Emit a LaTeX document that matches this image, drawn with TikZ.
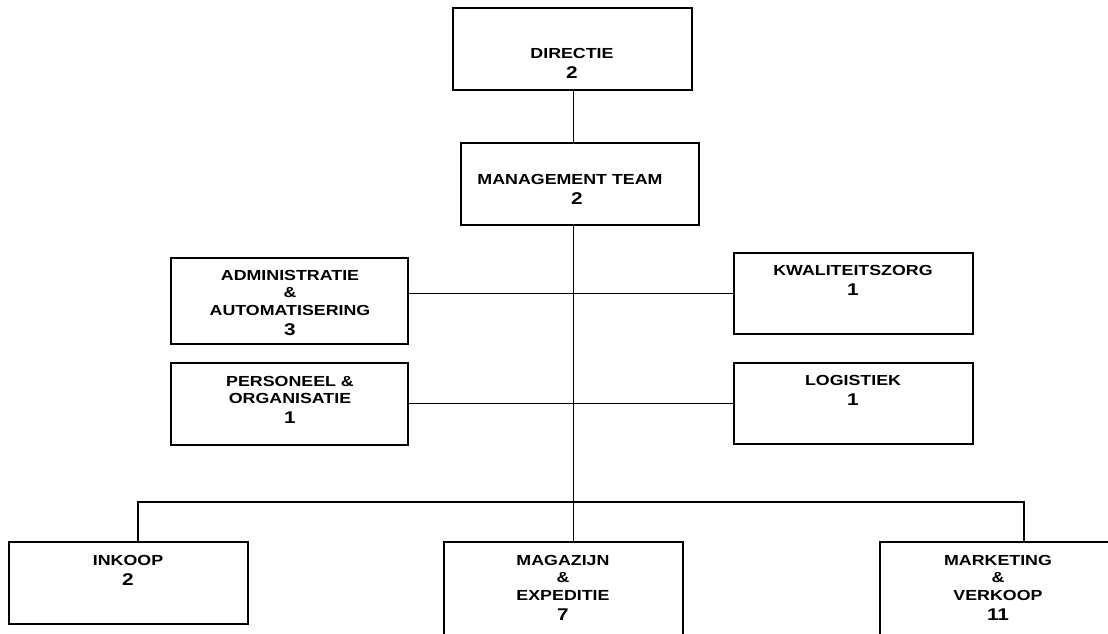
\documentclass[tikz,border=0pt]{standalone}
\usepackage{fontspec}
\setmainfont{Liberation Sans}[FakeStretch=1.22]
\begin{document}
\begin{tikzpicture}[x=1pt,y=-1pt,
  orgbox/.style={draw=black,line width=1.4pt,rectangle,inner sep=0pt,
    minimum width=239pt,minimum height=82pt},
  orgtext/.style={inner sep=0pt,align=center,
    font=\bfseries\fontsize{14.6}{17.5}\selectfont},
  link/.style={draw=black,line width=1.3pt}]
\useasboundingbox (0,0) rectangle (1108,634);
\clip (0,0) rectangle (1108,634);
\newcommand{\num}[1]{{\fontsize{17}{17.5}\selectfont #1}}
% boxes
\node[orgbox] (dir)  at (572.5,49) {};
\node[orgbox, minimum width=238pt] (mt) at (580,184) {};
\node[orgbox, minimum width=237pt, minimum height=86pt] (adm) at (289.5,301) {};
\node[orgbox, minimum width=237pt] (pers) at (289.5,404) {};
\node[orgbox, minimum height=81pt] (kwal) at (853.5,293.5) {};
\node[orgbox, minimum height=81pt] (log)  at (853.5,403.5) {};
\node[orgbox] (ink)  at (128.5,583) {};
\node[orgbox, minimum height=100pt] (mag)  at (563.5,592) {};
\node[orgbox, minimum height=100pt] (mark) at (999.5,592) {};
% texts
\node[orgtext] (dirT)  at (572,63)   {DIRECTIE\\[2.5pt]\num{2}};
\node[orgtext] (mtT)   at (570,189)  {MANAGEMENT TEAM\\[2.5pt]\hspace*{14pt}\num{2}};
\node[orgtext] (admT)  at (290,302.5)  {ADMINISTRATIE\\\&\\AUTOMATISERING\\[2.5pt]\num{3}};
\node[orgtext] (persT) at (290,400)  {PERSONEEL \&\\ORGANISATIE\\[2.5pt]\num{1}};
\node[orgtext] (kwalT) at (853,280)  {KWALITEITSZORG\\[2.5pt]\num{1}};
\node[orgtext] (logT)  at (853,390.5)  {LOGISTIEK\\[2.5pt]\num{1}};
\node[orgtext] (inkT)  at (128,570)  {INKOOP\\[2.5pt]\num{2}};
\node[orgtext] (magT)  at (563,587.5)  {MAGAZIJN\\\&\\EXPEDITIE\\[2.5pt]\num{7}};
\node[orgtext] (markT) at (998,587.5)  {MARKETING\\\&\\VERKOOP\\[2.5pt]\num{11}};
% connectors
\coordinate (top) at (573.5,90);
\coordinate (trunk) at (573.5,225);
\coordinate (jL) at (138,502);
\coordinate (jR) at (1024,502);
\path[link] (top) -- (top |- mt.north);
\path[link] (trunk) -- (trunk |- mag.north);
\path[link] (kwal.west) -- (kwal.west -| adm.east);
\path[link] (log.west) -- (log.west -| pers.east);
\path[link] (jL |- ink.north) -- (jL) -- (jR) -- (jR |- mark.north);
\end{tikzpicture}
\end{document}
